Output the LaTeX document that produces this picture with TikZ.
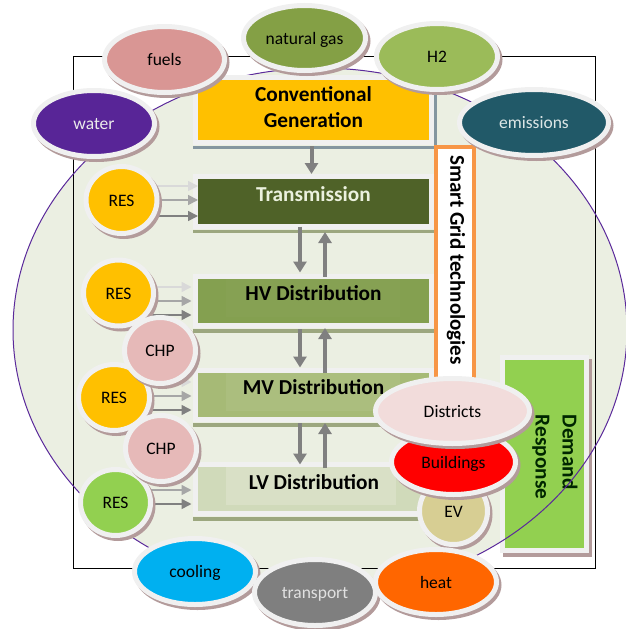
\documentclass[tikz,border=0pt]{standalone}
\usepackage{fontspec}
\setmainfont{Carlito}
\usetikzlibrary{shapes.geometric,shadows,arrows.meta}
\definecolor{ringc}{HTML}{F0F0F0}
\definecolor{shadc}{HTML}{B39B9B}
\definecolor{bgc}{HTML}{EBEFE2}
\definecolor{purp}{HTML}{5B2A9B}
\definecolor{cgreen}{HTML}{92D050}
\definecolor{cyel}{HTML}{FFC000}
\definecolor{ctrans}{HTML}{4F6228}
\definecolor{chv}{HTML}{84A050}
\definecolor{cmv}{HTML}{A6BA76}
\definecolor{clv}{HTML}{D0DABA}
\definecolor{ihv}{HTML}{86A153}
\definecolor{imv}{HTML}{ABBE7E}
\definecolor{ilv}{HTML}{D9E0C6}
\definecolor{cfuel}{HTML}{D99694}
\definecolor{cgas}{HTML}{84A045}
\definecolor{chtwo}{HTML}{9BBB59}
\definecolor{cwater}{HTML}{582597}
\definecolor{cemis}{HTML}{215968}
\definecolor{cchp}{HTML}{E6B9B8}
\definecolor{cev}{HTML}{D7CE93}
\definecolor{cbld}{HTML}{FF0000}
\definecolor{cdst}{HTML}{F2DCDB}
\definecolor{ccool}{HTML}{00B0F0}
\definecolor{ctr}{HTML}{7F7F7F}
\definecolor{cheat}{HTML}{FF6600}
\definecolor{barblue}{HTML}{8496A0}
\definecolor{bargreen}{HTML}{9CA77F}
\definecolor{sgorange}{HTML}{F79646}
\definecolor{txtlight}{HTML}{EBEBEB}
\definecolor{txtem}{HTML}{DCE6E6}
\definecolor{txttr}{HTML}{E1E1E1}
\definecolor{txtwh}{HTML}{EBF1DE}
\pgfdeclarelayer{bgl}\pgfdeclarelayer{boxes}\pgfdeclarelayer{mid}
\pgfsetlayers{bgl,boxes,mid,main}
\tikzset{
  x=1pt,y=-1pt,
  bub/.style n args={3}{ellipse,draw=ringc,line width=5pt,fill=#1,outer sep=0pt,inner sep=0pt,
    minimum width=#2pt+5pt,minimum height=#3pt+5pt,
    general shadow={shadow xshift=2.5pt,shadow yshift=-3pt,fill=shadc,draw=shadc,line width=5pt},
    font=\fontsize{17.5}{20}\selectfont,text=black,text height=14pt,text depth=2pt},
  lbox/.style n args={3}{rectangle,draw=ringc,line width=5pt,fill=#1,outer sep=0pt,inner sep=0pt,
    minimum width=#2pt+5pt,minimum height=#3pt+5pt},
  inner/.style n args={3}{rectangle,fill=#1,inner sep=0pt,outer sep=0pt,minimum width=#2pt,minimum height=#3pt},
  ttl/.style={font=\bfseries\fontsize{21.3}{26}\selectfont,text=black,align=center,inner sep=0pt},
  bigar/.style={color=black!50,line width=4pt,-{Triangle[length=11pt,width=13pt]}},
  smlar/.style={color=#1,line width=1.5pt,-{Triangle[length=10pt,width=10pt]}},
  bar/.style={line width=3.5pt},
}
\begin{document}
\begin{tikzpicture}
\useasboundingbox (0,0) rectangle (626,629);
% ---------- background
\begin{pgfonlayer}{bgl}
\fill[bgc] (320,330) ellipse [x radius=307pt,y radius=262pt];
\draw[black,line width=1pt] (73,56) rectangle (595,568);
\node[lbox={cgreen}{79}{188},general shadow={shadow xshift=2.5pt,shadow yshift=-4pt,fill=shadc,draw=shadc,line width=5pt}] (dr) at (544.5,454) {};
\node[rotate=-90,font=\bfseries\fontsize{21.3}{27}\selectfont,align=left,inner sep=0pt,text=black!85!green] (drt) at (555,457) {Demand\\Response};
\draw[purp,line width=1pt] (320,330) ellipse [x radius=307pt,y radius=262pt];
\end{pgfonlayer}
% ---------- level boxes
\begin{pgfonlayer}{boxes}
\draw[bar,color=barblue] (193,147.5) -- (435.5,147.5) -- (435.5,90);
\draw[bar,color=bargreen] (193,231.5) -- (435,231.5);
\draw[bar,color=bargreen] (193,331) -- (435,331);
\draw[bar,color=bargreen] (193,425) -- (435,425);
\draw[bar,color=bargreen] (193,519) -- (435,519);
\node[lbox={cyel}{231}{60}] (conv) at (313.5,110) {};
\node[lbox={ctrans}{231}{45}] (trans) at (313.5,201.5) {};
\node[lbox={chv}{231}{44}] (hv) at (313.5,301) {};
\node[lbox={cmv}{231}{44}] (mv) at (313.5,395) {};
\node[lbox={clv}{231}{44}] (lv) at (313.5,489) {};
\node[inner={ihv}{174}{38}] (hvin) at (313,298) {};
\node[inner={imv}{174}{38}] (mvin) at (313,392) {};
\node[inner={ilv}{170}{38}] (lvin) at (311,486) {};
\node[ttl] (convt) at (313.5,107.5) {Conventional\\Generation};
\node[ttl,text=txtwh] (transt) at (313.5,194.5) {Transmission};
\node[ttl] (hvt) at (313.5,293.5) {HV Distribution};
\node[ttl] (mvt) at (313.5,387.5) {MV Distribution};
\node[ttl] (lvt) at (314,482) {LV Distribution};
\node[rectangle,draw=sgorange,fill=white,line width=4pt,outer sep=0pt,minimum width=38pt,minimum height=238pt] (sg) at (455,266) {};
\node[rotate=-90,font=\bfseries\fontsize{21}{25}\selectfont,inner sep=0pt,text=black] (sgt) at (456,260) {Smart Grid technologies};
\end{pgfonlayer}
% ---------- bubbles
\node[bub={cfuel}{115}{61}] (fuels) at (164.5,59.5) {fuels};
\node[bub={cgas}{117}{60}] (gas) at (304.5,38) {natural gas};
\node[bub={chtwo}{116}{61}] (h2) at (437,56.5) {H2};
\node[bub={cwater}{116}{61},text=txtlight] (water) at (94,123.5) {water};
\node[bub={cemis}{144}{61},text=txtem] (emis) at (534,122.5) {emissions};
\node[bub={cyel}{66}{62}] (r1) at (121.5,200) {RES};
\node[bub={cyel}{65}{61}] (r2) at (118.5,293) {RES};
\node[bub={cyel}{66}{61}] (r3) at (114,397.5) {RES};
\node[bub={cchp}{66}{61}] (c1) at (160,350.5) {CHP};
\node[bub={cgreen}{65}{61}] (r4) at (115.5,502.5) {RES};
\node[bub={cchp}{66}{61}] (c2) at (161,448.5) {CHP};
\node[bub={cev}{63}{62}] (ev) at (453.5,511) {EV};
\node[bub={cbld}{119}{60}] (bld) at (453.5,462) {Buildings};
\node[bub={cdst}{149}{60}] (dst) at (452.5,411) {Districts};
\node[bub={ccool}{116}{61}] (cool) at (195,571.5) {cooling};
\node[bub={ctr}{116}{61},text=txttr] (tr) at (315,592.5) {transport};
\node[bub={cheat}{116}{60}] (heat) at (436,582) {heat};
% ---------- connectors
\begin{pgfonlayer}{mid}
\draw[bigar] ([xshift=-2pt,yshift=-3.5pt]conv.south) -- ([xshift=-2pt,yshift=2.5pt]trans.north);
\draw[bigar] ([xshift=-13.5pt]trans.south) -- ([xshift=-13.5pt,yshift=4pt]hv.north);
\draw[bigar] ([xshift=11.5pt]hv.north) -- ([xshift=11.5pt,yshift=-5.5pt]trans.south);
\draw[bigar] ([xshift=-13.5pt,yshift=-3.5pt]hv.south) -- ([xshift=-13.5pt,yshift=3pt]mv.north);
\draw[bigar] ([xshift=11.5pt,yshift=-2.5pt]mv.north) -- ([xshift=11.5pt,yshift=-2.5pt]hv.south);
\draw[bigar] ([xshift=-13.5pt,yshift=-3.5pt]mv.south) -- ([xshift=-13.5pt]lv.north);
\draw[bigar] ([xshift=11.5pt,yshift=-3.5pt]lv.north) -- ([xshift=11.5pt,yshift=-3.5pt]mv.south);
% RES 1
\draw[smlar=black!15] ([yshift=14pt]r1.center) -- ([yshift=14pt,xshift=2.5pt]r1.center -| trans.west);
\draw[smlar=black!35] (r1.center) -- ([xshift=2.5pt]r1.center -| trans.west);
\draw[smlar=black!50] ([yshift=-16pt]r1.center) -- ([yshift=-16pt,xshift=2.5pt]r1.center -| trans.west);
% RES 2
\draw[smlar=black!15] ([yshift=6pt]r2.center) -- ([yshift=6pt,xshift=-4pt]r2.center -| hv.west);
\draw[smlar=black!35] ([yshift=-8pt]r2.center) -- ([yshift=-8pt,xshift=-4pt]r2.center -| hv.west);
\draw[smlar=black!50] ([yshift=-22pt]r2.center) -- ([yshift=-22pt,xshift=-4pt]r2.center -| hv.west);
% RES 3
\draw[smlar=black!15] ([yshift=15.5pt]r3.center) -- ([yshift=15.5pt,xshift=-4pt]r3.center -| mv.west);
\draw[smlar=black!35] ([yshift=1.5pt]r3.center) -- ([yshift=1.5pt,xshift=-4pt]r3.center -| mv.west);
\draw[smlar=black!50] ([yshift=-12.5pt]r3.center) -- ([yshift=-12.5pt,xshift=-4pt]r3.center -| mv.west);
% RES 4
\draw[smlar=black!35] ([yshift=12.5pt]r4.center) -- ([yshift=12.5pt,xshift=-4pt]r4.center -| lv.west);
\draw[smlar=black!50] ([yshift=-1.5pt]r4.center) -- ([yshift=-1.5pt,xshift=-4pt]r4.center -| lv.west);
\end{pgfonlayer}
\end{tikzpicture}
\end{document}
